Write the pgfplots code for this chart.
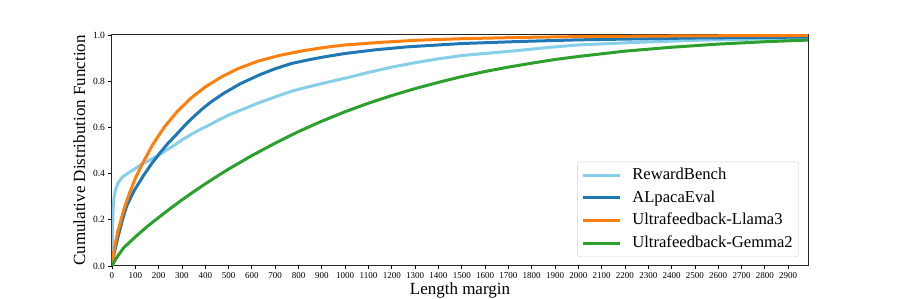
\documentclass[border=0pt]{standalone}
\usepackage{pgfplots}
\pgfplotsset{compat=1.18}
\usepackage{pgfplotstable}
\usepackage{fontspec}
\setmainfont{Liberation Serif}
\definecolor{skyb}{HTML}{87CEEB}
\definecolor{tblue}{HTML}{1F77B4}
\definecolor{torange}{HTML}{FF7F0E}
\definecolor{tgreen}{HTML}{2CA02C}
\pgfplotstableread{
x y
0 0.0
2 0.15
5 0.25
9 0.30
15 0.33
26 0.36
45 0.385
69 0.402
100 0.422
126 0.44
160 0.458
197 0.477
230 0.50
269 0.524
300 0.546
340 0.570
370 0.587
411 0.607
450 0.628
497 0.652
560 0.678
626 0.705
700 0.732
771 0.757
840 0.775
914 0.793
1000 0.813
1100 0.838
1200 0.861
1300 0.880
1400 0.897
1500 0.911
1620 0.922
1744 0.933
1870 0.946
2000 0.957
2246 0.968
2500 0.977
2750 0.982
2985 0.986
}\rewardbench
\pgfplotstableread{
x y
0 0.0
10 0.058
26 0.127
45 0.200
63 0.260
95 0.326
134 0.390
170 0.443
206 0.490
240 0.531
277 0.570
310 0.606
349 0.645
385 0.678
420 0.707
480 0.748
550 0.789
634 0.828
700 0.854
771 0.877
850 0.894
920 0.907
1000 0.920
1130 0.936
1271 0.949
1500 0.963
1750 0.972
2000 0.979
2500 0.987
2985 0.991
}\alpaca
\pgfplotstableread{
x y
0 0.0
10 0.076
25 0.149
50 0.242
75 0.316
100 0.379
133 0.448
175 0.526
225 0.602
280 0.669
340 0.728
400 0.775
470 0.819
540 0.854
626 0.887
720 0.912
820 0.932
910 0.946
1000 0.957
1150 0.968
1300 0.977
1500 0.984
1750 0.9895
2000 0.993
2500 0.9964
2985 0.998
}\llama
\pgfplotstableread{
x y
0 0.0
10 0.02
26 0.045
50 0.079
100 0.126
150 0.170
200 0.210
250 0.249
300 0.286
350 0.3215
400 0.3554
450 0.388
500 0.4195
600 0.478
700 0.532
800 0.582
900 0.627
1000 0.668
1100 0.7047
1200 0.738
1300 0.768
1400 0.795
1500 0.820
1600 0.842
1700 0.861
1800 0.878
1900 0.894
2000 0.907
2200 0.930
2400 0.947
2600 0.9606
2800 0.9708
2985 0.978
}\gemma
\begin{document}
\begin{tikzpicture}
\useasboundingbox (-112pt,-33pt) rectangle (785pt,266pt);
\begin{axis}[
  scale only axis, width=696pt, height=231pt,
  xmin=0, xmax=2985, ymin=0, ymax=1,
  xtick={0,100,...,2900},
  ytick={0,0.2,0.4,0.6,0.8,1.0},
  xtick pos=bottom, ytick pos=left, tick align=outside,
  major tick length=3.5pt,
  every tick/.style={black, line width=0.8pt},
  axis line style={black!85, line width=1pt},
  /pgf/number format/assume math mode=true,
  x tick label style={font=\fontsize{9}{9}\selectfont, /pgf/number format/1000 sep={}, yshift=1pt},
  y tick label style={font=\fontsize{9.5}{9.5}\selectfont, /pgf/number format/fixed, /pgf/number format/fixed zerofill, /pgf/number format/precision=1},
  xlabel={Length margin},
  ylabel={Cumulative Distribution Function},
  label style={font=\fontsize{17}{17}\selectfont},
  xlabel style={yshift=2pt},
  ylabel style={yshift=1pt},
  legend style={at={(0.987,0.039)}, anchor=south east, draw=black!18, rounded corners=3pt,
    fill=white, fill opacity=0.8, text opacity=1, font=\fontsize{16.6}{16.6}\selectfont,
    nodes={text height=11.5pt, text depth=3pt, inner sep=2pt}, row sep=4.3pt, inner sep=4pt},
  legend cell align=left,
  legend image code/.code={\draw[#1, line width=3pt] (0pt,0pt) -- (37pt,0pt); \path (46pt,0pt);},
  every axis plot/.append style={line width=3pt, line join=round},
]
\addplot[skyb] table[x=x,y=y] {\rewardbench};
\addlegendentry{RewardBench}
\addplot[tblue] table[x=x,y=y] {\alpaca};
\addlegendentry{ALpacaEval}
\addplot[torange] table[x=x,y=y] {\llama};
\addlegendentry{Ultrafeedback-Llama3}
\addplot[tgreen] table[x=x,y=y] {\gemma};
\addlegendentry{Ultrafeedback-Gemma2}
\end{axis}
\end{tikzpicture}
\end{document}
